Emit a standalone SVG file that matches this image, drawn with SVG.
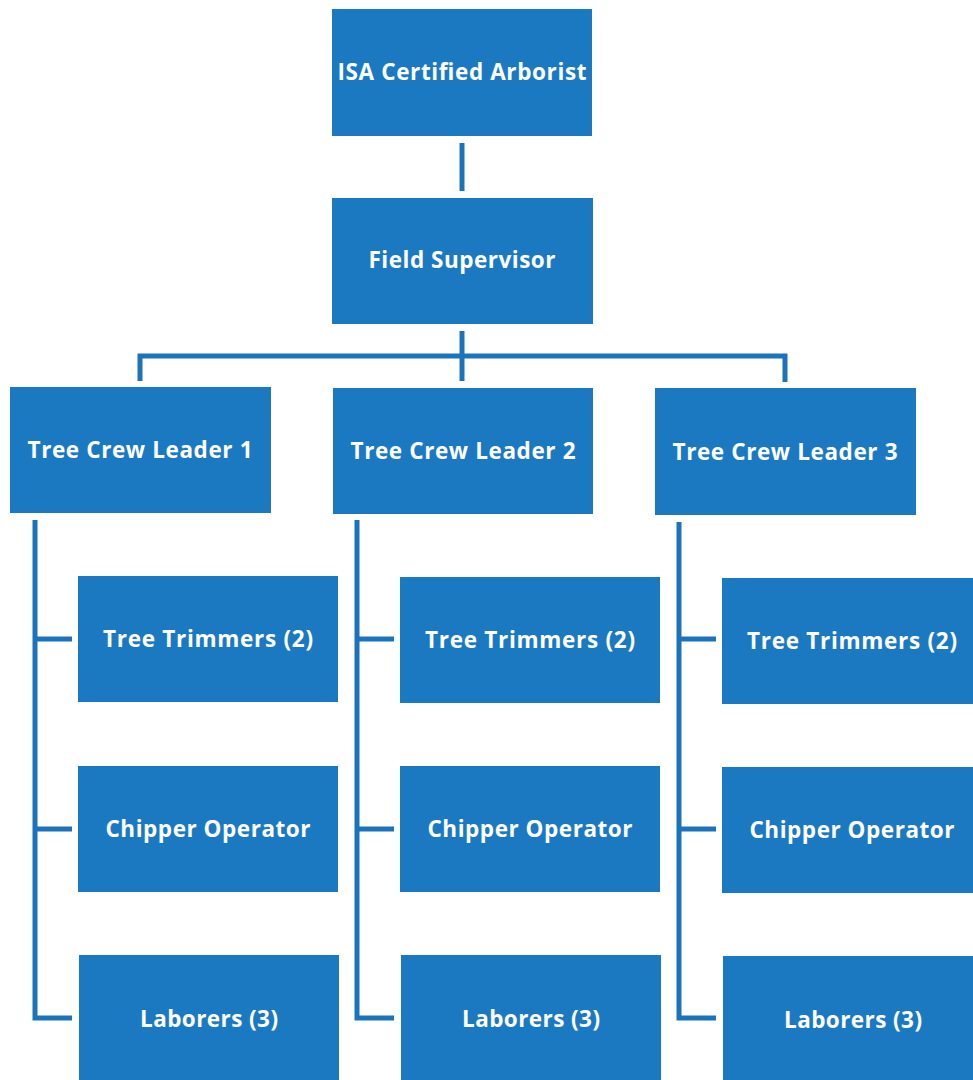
<svg xmlns="http://www.w3.org/2000/svg" width="973" height="1080" viewBox="0 0 973 1080">
<style>
.box{fill:#1b79c2}
.lbl{font-family:"Open Sans","DejaVu Sans",sans-serif;font-weight:700;font-size:22.5px;fill:#ffffff;text-anchor:middle}
.ln{fill:none;stroke:#1b74bb;stroke-width:5;stroke-linejoin:miter;stroke-linecap:butt}
</style>
<rect width="973" height="1080" fill="#ffffff"/>
<g id="connectors">
<line class="ln" x1="462" y1="143" x2="462" y2="191"/>
<line class="ln" x1="462" y1="331" x2="462" y2="381"/>
<polyline class="ln" points="140,381 140,356 785,356 785,382"/>
<polyline class="ln" points="35,520 35,1018 72,1018"/>
<line class="ln" x1="35" y1="639" x2="72" y2="639"/>
<line class="ln" x1="35" y1="829" x2="72" y2="829"/>
<polyline class="ln" points="357,520 357,1018 394,1018"/>
<line class="ln" x1="357" y1="639" x2="394" y2="639"/>
<line class="ln" x1="357" y1="829" x2="394" y2="829"/>
<polyline class="ln" points="679,522 679,1018 716,1018"/>
<line class="ln" x1="679" y1="639" x2="716" y2="639"/>
<line class="ln" x1="679" y1="829" x2="716" y2="829"/>
</g>
<g id="arborist"><rect class="box" x="332" y="9" width="260" height="127"/><text class="lbl" x="462" y="80" textLength="249">ISA Certified Arborist</text></g>
<g id="supervisor"><rect class="box" x="332" y="198" width="261" height="126"/><text class="lbl" x="462" y="268" textLength="187">Field Supervisor</text></g>
<g id="leader1"><rect class="box" x="10" y="387" width="261" height="126"/><text class="lbl" x="140" y="458" textLength="225">Tree Crew Leader 1</text></g>
<g id="leader2"><rect class="box" x="333" y="388" width="260" height="126"/><text class="lbl" x="463" y="459" textLength="225">Tree Crew Leader 2</text></g>
<g id="leader3"><rect class="box" x="655" y="388" width="261" height="127"/><text class="lbl" x="785" y="460" textLength="225">Tree Crew Leader 3</text></g>
<g id="trimmers1"><rect class="box" x="78" y="576" width="260" height="126"/><text class="lbl" x="208" y="647" textLength="210">Tree Trimmers (2)</text></g>
<g id="trimmers2"><rect class="box" x="400" y="577" width="260" height="126"/><text class="lbl" x="530" y="648" textLength="210">Tree Trimmers (2)</text></g>
<g id="trimmers3"><rect class="box" x="722" y="578" width="260" height="126"/><text class="lbl" x="852" y="649" textLength="210">Tree Trimmers (2)</text></g>
<g id="chipper1"><rect class="box" x="78" y="766" width="260" height="126"/><text class="lbl" x="208" y="837" textLength="205">Chipper Operator</text></g>
<g id="chipper2"><rect class="box" x="400" y="766" width="260" height="126"/><text class="lbl" x="530" y="837" textLength="205">Chipper Operator</text></g>
<g id="chipper3"><rect class="box" x="722" y="767" width="260" height="126"/><text class="lbl" x="852" y="838" textLength="205">Chipper Operator</text></g>
<g id="laborers1"><rect class="box" x="79" y="955" width="260" height="130"/><text class="lbl" x="209" y="1027" textLength="138">Laborers (3)</text></g>
<g id="laborers2"><rect class="box" x="401" y="955" width="260" height="130"/><text class="lbl" x="531" y="1027" textLength="138">Laborers (3)</text></g>
<g id="laborers3"><rect class="box" x="723" y="956" width="260" height="130"/><text class="lbl" x="853" y="1028" textLength="138">Laborers (3)</text></g>
</svg>
